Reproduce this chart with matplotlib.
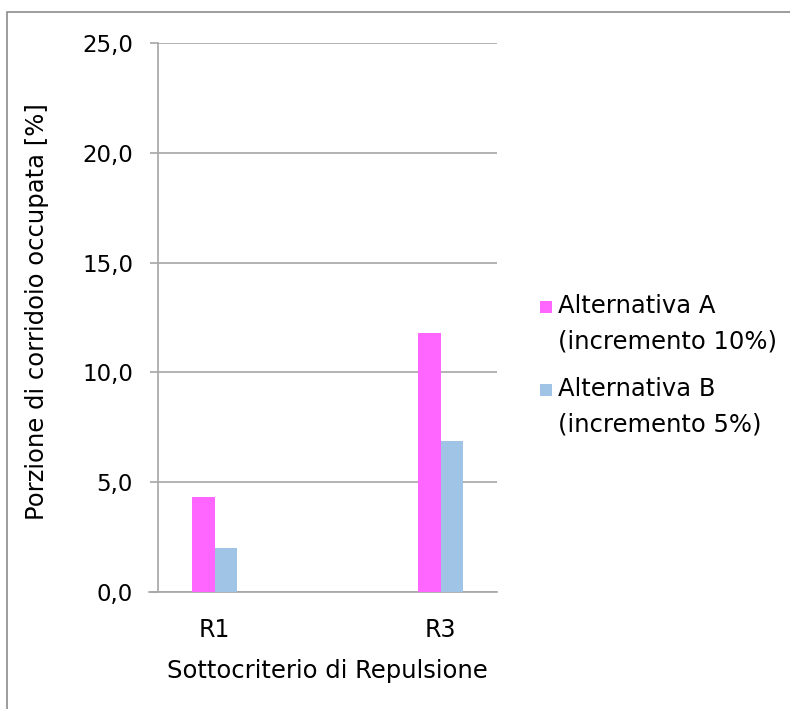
import matplotlib
matplotlib.use("Agg")
import matplotlib.pyplot as plt
from matplotlib.patches import Rectangle
from matplotlib.legend_handler import HandlerPatch
import numpy as np

categories = ["R1", "", "R3"]
alt_a = [4.33, np.nan, 11.78]
alt_b = [2.02, np.nan, 6.86]
label_a = "Alternativa A\n(incremento 10%)"
label_b = "Alternativa B\n(incremento 5%)"
yticks = [0, 5, 10, 15, 20, 25]
ytick_labels = ["0,0", "5,0", "10,0", "15,0", "20,0", "25,0"]

plt.rcParams['font.family'] = ['DejaVu Sans']
fig = plt.figure(figsize=(7.9, 7.09), dpi=100)
ax = fig.add_axes([158/790, 117/709, 339/790, 549/709])

x = np.arange(len(categories))
w = 0.195
gray = "#A6A6A6"
bars_a = ax.bar(x - w/2, alt_a, width=w, color="#FF66FF", label=label_a, zorder=3)
bars_b = ax.bar(x + w/2, alt_b, width=w, color="#A0C4E6", label=label_b, zorder=3)

ax.set_xlim(-0.5, 2.5)
ax.set_ylim(0, 25)
ax.set_yticks(yticks)
ax.set_yticklabels(ytick_labels, fontsize=16.5)
ax.set_xticks([0, 2])
ax.set_xticklabels(["R1", "R3"], fontsize=17)
ax.tick_params(axis='x', length=0, pad=19)
ax.tick_params(axis='y', length=6, color=gray, width=1.2, pad=12)
ax.grid(axis='y', color=gray, linewidth=1.2, zorder=0)
for s in ["top", "right"]:
    ax.spines[s].set_visible(False)
for s in ["left", "bottom"]:
    ax.spines[s].set_color(gray)
    ax.spines[s].set_linewidth(1.2)
ax.spines["bottom"].set_bounds(-0.58, 2.5)

ax.set_ylabel("Porzione di corridoio occupata [%]", fontsize=17.5)
ax.yaxis.set_label_coords(-0.322, 0.51)
ax.set_xlabel("Sottocriterio di Repulsione", fontsize=17.5, labelpad=12)

fs = 17.5
sq = 12 / 100 * 72  # square side in points

def square_top(legend, orig_handle, xdescent, ydescent, width, height, fontsize):
    return Rectangle((-xdescent, -ydescent + height - sq + 2), sq, sq)

leg = fig.legend(handles=[bars_a.patches[0], bars_b.patches[0]], labels=[label_a, label_b],
                 loc="upper left", bbox_to_anchor=(540/790, 1 - 294/709), frameon=False,
                 fontsize=fs, handlelength=sq / fs + 0.02, handleheight=2.4,
                 handletextpad=0.22, labelspacing=0.99, borderaxespad=0, borderpad=0,
                 handler_map={Rectangle: HandlerPatch(patch_func=square_top)})
for t in leg.get_texts():
    t.set_linespacing(1.58)

fig.patches.append(Rectangle((7/790, -0.5), 2, 0.5 + (1 - 12/709), transform=fig.transFigure,
                             fill=False, edgecolor="#8C8C8C", linewidth=1.2, zorder=0))

fig.savefig("out.png", dpi=100)
